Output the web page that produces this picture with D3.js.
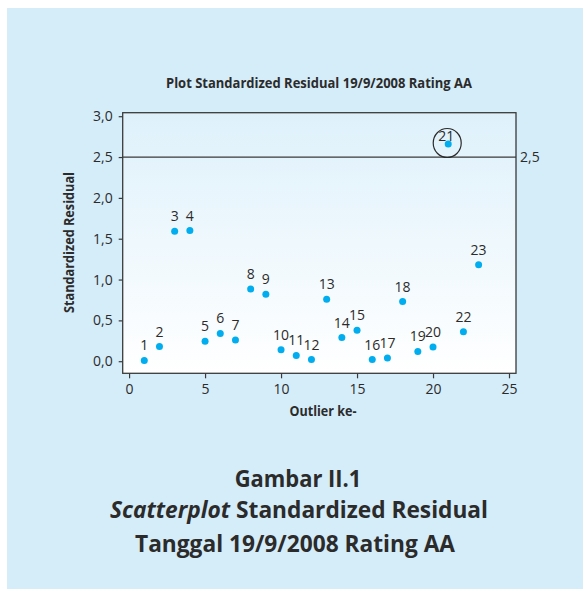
<!DOCTYPE html>
<html>
<head>
<meta charset="utf-8">
<script src="https://cdn.jsdelivr.net/npm/d3@7"></script>
<style>
  body { margin: 0; background: #ffffff; }
  svg { display: block; }
  text { font-family: "Open Sans", "Noto Sans", sans-serif; fill: #2b2b2b; }
</style>
</head>
<body>
<div id="chart_div"></div>
<script>
// data
var outlier_ids = [1, 2, 3, 4, 5, 6, 7, 8, 9, 10, 11, 12, 13, 14, 15, 16, 17, 18, 19, 20, 21, 22, 23];
var residuals = [0.01, 0.18, 1.59, 1.60, 0.245, 0.34, 0.26, 0.885, 0.82, 0.14, 0.07, 0.02,
                 0.76, 0.29, 0.38, 0.02, 0.04, 0.73, 0.12, 0.175, 2.66, 0.36, 1.18];
var x_ticks = [0, 5, 10, 15, 20, 25];
var y_ticks = [0, 0.5, 1, 1.5, 2, 2.5, 3];
var threshold = 2.5;
var flagged = [21];

var chart_title = "Plot Standardized Residual 19/9/2008 Rating AA";
var x_title = "Outlier ke-";
var y_title = "Standardized Residual";

var page_width = 583;
var page_height = 589;

var plot_left = 122.7, plot_right = 516, plot_top = 112.7, plot_bottom = 373.3;

var fmt = function(v) { return d3.format(".1f")(v).replace(".", ","); };

var svg = d3.select("#chart_div")
    .append("svg")
    .attr("width", page_width)
    .attr("height", page_height);

var defs = svg.append("defs");
var grad = defs.append("linearGradient")
    .attr("id", "plot_grad")
    .attr("x1", 0).attr("y1", 0).attr("x2", 0).attr("y2", 1);
grad.append("stop").attr("offset", "0%").attr("stop-color", "#def1fb");
grad.append("stop").attr("offset", "100%").attr("stop-color", "#ffffff");

// background panel
svg.append("rect")
    .attr("x", 7).attr("y", 8)
    .attr("width", page_width - 7).attr("height", page_height - 8)
    .attr("fill", "#d5ecf9");

var x = d3.scaleLinear().domain([-0.42, 25.46]).range([plot_left, plot_right]);
var y = d3.scaleLinear().domain([-0.148, 3.043]).range([plot_bottom, plot_top]);

// plot area
svg.append("rect")
    .attr("x", plot_left).attr("y", plot_top)
    .attr("width", plot_right - plot_left).attr("height", plot_bottom - plot_top)
    .attr("fill", "url(#plot_grad)")
    .attr("stroke", "#3a3a3a")
    .attr("stroke-width", 1.3);

// axes
var x_axis = svg.append("g")
    .attr("transform", "translate(0," + plot_bottom + ")")
    .call(d3.axisBottom(x).tickValues(x_ticks).tickSize(5).tickPadding(6));
var y_axis = svg.append("g")
    .attr("transform", "translate(" + plot_left + ",0)")
    .call(d3.axisLeft(y).tickValues(y_ticks).tickFormat(fmt).tickSize(4).tickPadding(6));

[x_axis, y_axis].forEach(function(ax) {
    ax.select(".domain").remove();
    ax.selectAll(".tick line").attr("stroke", "#3a3a3a").attr("stroke-width", 1.2);
    ax.selectAll(".tick text")
        .attr("font-family", "'Open Sans', sans-serif")
        .attr("font-size", 14)
        .attr("fill", "#333");
});

// threshold line
svg.append("line")
    .attr("x1", plot_left).attr("x2", plot_right)
    .attr("y1", y(threshold)).attr("y2", y(threshold))
    .attr("stroke", "#3a3a3a")
    .attr("stroke-width", 1.3);
svg.append("text")
    .attr("x", plot_right + 4)
    .attr("y", y(threshold) + 5)
    .attr("font-size", 14)
    .attr("fill", "#333")
    .text(fmt(threshold));

var points = outlier_ids.map(function(id, i) { return { id: id, v: residuals[i] }; });

// circle around flagged outliers
svg.selectAll(".flag")
    .data(points.filter(function(d) { return flagged.indexOf(d.id) >= 0; }))
    .enter()
    .append("ellipse")
    .attr("cx", function(d) { return x(d.id) - 1; })
    .attr("cy", function(d) { return y(d.v) - 1; })
    .attr("rx", 14)
    .attr("ry", 14.5)
    .attr("fill", "none")
    .attr("stroke", "#2b2b2b")
    .attr("stroke-width", 1.2);

svg.selectAll(".pt")
    .data(points)
    .enter()
    .append("circle")
    .attr("cx", function(d) { return x(d.id); })
    .attr("cy", function(d) { return y(d.v); })
    .attr("r", 3.5)
    .attr("fill", "#00adef");

svg.selectAll(".lbl")
    .data(points)
    .enter()
    .append("text")
    .attr("x", function(d) { return x(d.id) - (flagged.indexOf(d.id) >= 0 ? 2 : 0); })
    .attr("y", function(d) { return y(d.v) - (flagged.indexOf(d.id) >= 0 ? 2.5 : 10); })
    .attr("text-anchor", "middle")
    .attr("font-size", 14)
    .attr("fill", "#333")
    .text(function(d) { return d.id; });

// squeeze a text element to a target width, keeping its height
function fit_width(sel, w) {
    sel.attr("textLength", w).attr("lengthAdjust", "spacingAndGlyphs");
}

var title = svg.append("text")
    .attr("x", 319).attr("y", 88)
    .attr("text-anchor", "middle")
    .attr("font-size", 14)
    .attr("font-weight", "bold")
    .text(chart_title);
fit_width(title, 306);

var xt = svg.append("text")
    .attr("x", 323).attr("y", 416)
    .attr("text-anchor", "middle")
    .attr("font-size", 14)
    .attr("font-weight", "bold")
    .text(x_title);
fit_width(xt, 67);

var yt = svg.append("text")
    .attr("transform", "translate(74,242.5) rotate(-90)")
    .attr("text-anchor", "middle")
    .attr("font-size", 14)
    .attr("font-weight", "bold")
    .text(y_title);
fit_width(yt, 141);

// caption
var cap1 = svg.append("text")
    .attr("x", 298).attr("y", 486.7)
    .attr("text-anchor", "middle")
    .attr("font-size", 23)
    .attr("font-weight", "bold")
    .text("Gambar II.1");
fit_width(cap1, 126.7);

var cap2 = svg.append("text")
    .attr("x", 299).attr("y", 518.3)
    .attr("text-anchor", "middle")
    .attr("font-size", 23)
    .attr("font-weight", "bold");
cap2.append("tspan").attr("font-style", "italic").text("Scatterplot");
cap2.append("tspan").text(" Standardized Residual");
fit_width(cap2, 378);

var cap3 = svg.append("text")
    .attr("x", 295).attr("y", 551.7)
    .attr("text-anchor", "middle")
    .attr("font-size", 23)
    .attr("font-weight", "bold")
    .text("Tanggal 19/9/2008 Rating AA");
fit_width(cap3, 320);
</script>
</body>
</html>
